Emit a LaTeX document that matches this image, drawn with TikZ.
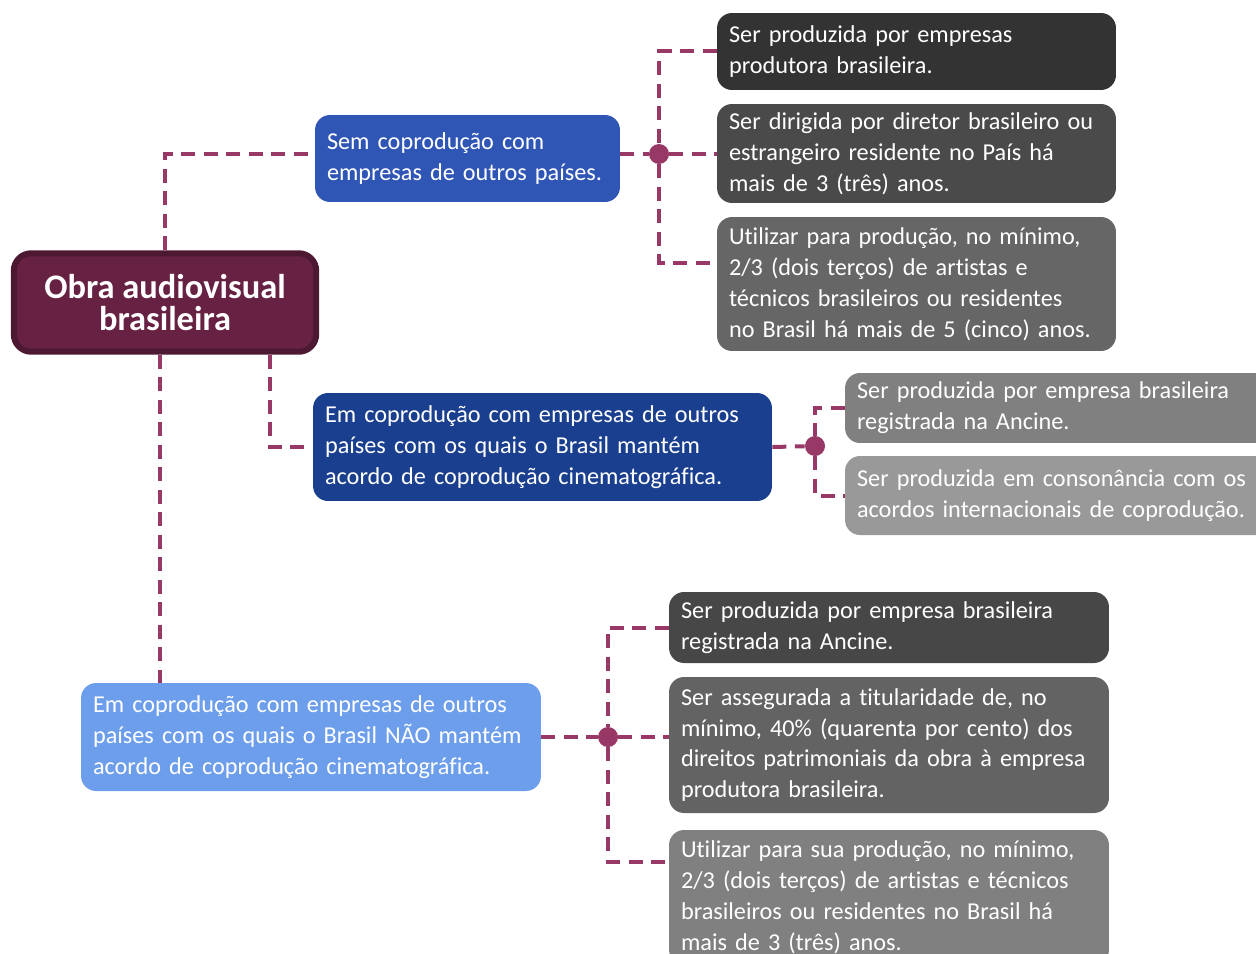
\documentclass[tikz,border=0pt]{standalone}
\usepackage{fontspec}
\setmainfont{Carlito}[Ligatures={NoCommon}]
\usepackage{xcolor}
\usepackage{tikz}
\usetikzlibrary{backgrounds}

\definecolor{linkc}{RGB}{152,56,102}
\definecolor{rootfill}{RGB}{103,33,66}
\definecolor{rootedge}{RGB}{77,24,50}
\definecolor{semfill}{RGB}{47,85,181}
\definecolor{comfill}{RGB}{27,63,143}
\definecolor{naofill}{RGB}{109,158,235}

\tikzset{
  box/.style={rounded corners=0.3cm, text=white, align=left, inner xsep=0.24cm, inner ysep=0.1cm,
    font=\fontsize{13.8}{17.6}\selectfont},
  rootbox/.style={rounded corners=0.35cm, fill=rootfill, draw=rootedge, line width=0.12cm,
    text=white, align=center, font=\fontsize{19.6}{18.7}\selectfont\bfseries},
  link/.style={linkc, line width=0.08cm, dash pattern=on 0.28cm off 0.17cm},
  junction/.style={circle, fill=linkc, inner sep=0pt, minimum size=0.4cm}
}

\begin{document}
\begin{tikzpicture}[x=0.02cm,y=-0.02cm]
      \useasboundingbox (0,0) rectangle (1256,953);
      \clip (0,0) rectangle (1256,953);
      % main box
      \node[rootbox, minimum width=6.05cm, minimum height=1.97cm] (root) at (165,302.5) {Obra audiovisual\\brasileira};
      % three cases
      \node[box, fill=semfill, text width=5.62cm, minimum height=1.74cm] (sem) at (467.5,158.5) {Sem coprodução com\\empresas de outros países.};
      \node[box, fill=comfill, text width=8.7cm, minimum height=2.16cm] (com) at (542.5,447) {Em coprodução com empresas de outros\\países com os quais o Brasil mantém\\acordo de coprodução cinematográfica.};
      \node[box, fill=naofill, text width=8.72cm, minimum height=2.16cm] (nao) at (311,737) {Em coprodução com empresas de outros\\países com os quais o Brasil NÃO mantém\\acordo de coprodução cinematográfica.};
      % requirements, first case
      \node[box, fill=black!80, text width=7.5cm, minimum height=1.54cm] (s1) at (916.5,51.5) {Ser produzida por empresas\\produtora brasileira.};
      \node[box, fill=black!71, text width=7.5cm, minimum height=1.98cm] (s2) at (916.5,153.5) {Ser dirigida por diretor brasileiro ou\\estrangeiro residente no País há\\mais de 3 (três) anos.};
      \node[box, fill=black!60, text width=7.5cm, minimum height=2.68cm] (s3) at (916.5,284) {Utilizar para produção, no mínimo,\\2/3 (dois terços) de artistas e\\técnicos brasileiros ou residentes\\no Brasil há mais de 5 (cinco) anos.};
      % requirements, second case
      \node[box, fill=black!50, text width=8.32cm, minimum height=1.4cm] (c1) at (1065,408) {Ser produzida por empresa brasileira\\registrada na Ancine.};
      \node[box, fill=black!40, text width=8.32cm, minimum height=1.58cm] (c2) at (1065,495.5) {Ser produzida em consonância com os\\acordos internacionais de coprodução.};
      % requirements, third case
      \node[box, fill=black!72, text width=8.32cm, minimum height=1.42cm] (n1) at (889,627.5) {Ser produzida por empresa brasileira\\registrada na Ancine.};
      \node[box, fill=black!61, text width=8.32cm, minimum height=2.72cm] (n2) at (889,745) {Ser assegurada a titularidade de, no\\mínimo, 40\% (quarenta por cento) dos\\direitos patrimoniais da obra à empresa\\produtora brasileira.};
      \node[box, fill=black!50, text width=8.32cm, minimum height=2.7cm] (n3) at (889,897.5) {Utilizar para sua produção, no mínimo,\\2/3 (dois terços) de artistas e técnicos\\brasileiros ou residentes no Brasil há\\mais de 3 (três) anos.};
      % junctions
      \node[junction] (dA) at (659,154) {};
      \node[junction] (dB) at (815,446) {};
      \node[junction] (dC) at (608,737) {};
      \begin{scope}[on background layer]
        \draw[link] (root.north) |- (dA -| sem.west);
        \draw[link] (sem.east |- dA) -- (dA) -- (dA -| s2.west);
        \draw[link] (s1.west) -| (dA) |- ([yshift=-0.92cm]s3.north west);
        \draw[link] ([xshift=2.1cm]root.south) |- (com.west);
        \draw[link] (com.east) -- (dB);
        \draw[link] (c1.west) -| (dB) |- (c2.west);
        \draw[link] ([xshift=-0.1cm]root.south) -- ([xshift=-0.1cm]root.south |- nao.north);
        \draw[link] (nao.east) -- (dC) -- (dC -| n2.west);
        \draw[link] (n1.west) -| (dC) |- ([yshift=-0.64cm]n3.north west);
      \end{scope}
    \end{tikzpicture}
\end{document}
